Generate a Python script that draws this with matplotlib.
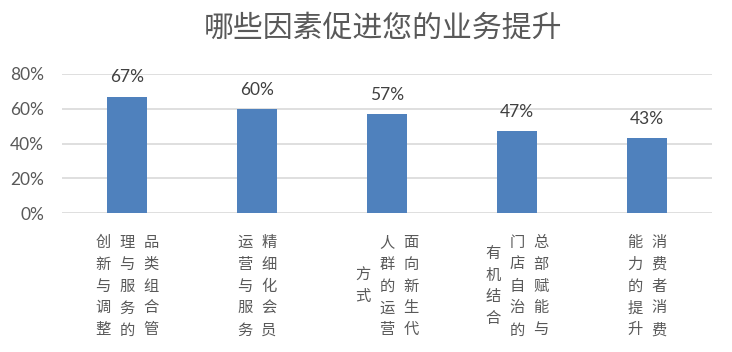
import matplotlib
matplotlib.use("Agg")
import matplotlib.pyplot as plt
import matplotlib.transforms as mtransforms

categories = ["品类组合管理与服务的创新与调整", "精细化会员运营与服务", "面向新生代人群的运营方式",
              "总部赋能与门店自治的有机结合", "消费者消费能力的提升"]
values = [0.67, 0.60, 0.57, 0.47, 0.43]
yticks = [0, 0.2, 0.4, 0.6, 0.8]
ytick_labels = ["0%", "20%", "40%", "60%", "80%"]
title = "哪些因素促进您的业务提升"

W, H = 732, 352
fig = plt.figure(figsize=(W / 100, H / 100), dpi=100)
ax_l, ax_r, ax_t, ax_b = 62, 712, 74, 213
ax = fig.add_axes([ax_l / W, 1 - ax_b / H, (ax_r - ax_l) / W, (ax_b - ax_t) / H])

num_font = ["Lato", "Noto Sans CJK SC", "DejaVu Sans"]
cjk_font = ["Noto Sans CJK SC", "DejaVu Sans"]
txt_color = "#595959"

x = list(range(len(categories)))
ax.bar(x, values, width=0.31, color="#4F81BD", zorder=3)
ax.set_xlim(-0.5, len(categories) - 0.5)
ax.set_ylim(0, 0.8)
ax.set_yticks(yticks)
ax.set_yticklabels(ytick_labels, fontfamily=num_font, fontsize=12.5, color=txt_color)
ax.tick_params(axis="y", length=0, pad=13)
ax.set_xticks([])
for s in ax.spines.values():
    s.set_visible(False)
ax.grid(axis="y", color="#D9D9D9", linewidth=1.2, zorder=0)
ax.set_axisbelow(True)

for xi, v in zip(x, values):
    ax.annotate(f"{round(v * 100)}%", (xi, v), xytext=(0, 8), textcoords="offset points",
                ha="center", va="bottom", fontfamily=num_font, fontsize=12.5, color="#404040")

# vertical (stacked) category labels, columns read right-to-left
col_len = 5
col_step = 24  # px
y_center_px = 286
y_ax = (ax_b - y_center_px) / (ax_b - ax_t)
for xi, lab in zip(x, categories):
    cols = [lab[i:i + col_len] for i in range(0, len(lab), col_len)]
    n = len(cols)
    for j, col in enumerate(cols):
        off = ((n - 1) / 2 - j) * col_step
        tr = mtransforms.blended_transform_factory(ax.transData, ax.transAxes) + \
            mtransforms.ScaledTranslation(off / 100, 0, fig.dpi_scale_trans)
        ax.text(xi, y_ax, "\n".join(col), transform=tr, ha="center", va="center",
                fontfamily=cjk_font, fontsize=11, color=txt_color, linespacing=1.38,
                clip_on=False)

fig.text(383 / W, 1 - 28 / H, title, ha="center", va="center", fontfamily=cjk_font,
         fontsize=21.5, color=txt_color, fontweight="light")

fig.savefig("out.png", dpi=100)
